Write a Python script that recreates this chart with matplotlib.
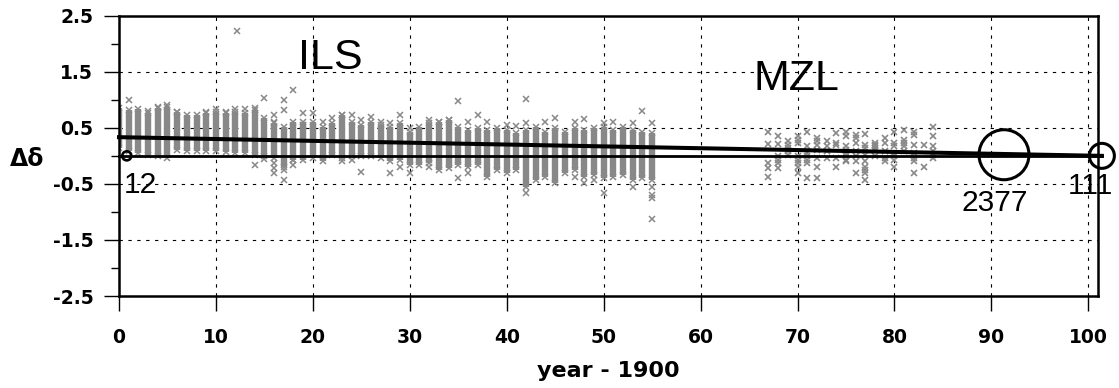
import matplotlib
matplotlib.use("Agg")
import matplotlib.pyplot as plt

# ILS: dense column per year (low / high edge of the cloud)
ils_years = list(range(0, 56))
ils_lo = [0.14, 0.08, 0.05, 0.02, -0.01, -0.04, 0.11, 0.08, 0.08, 0.08,
          0.08, 0.06, 0.05, 0.05, 0.02, -0.01, -0.04, -0.19, -0.07, -0.07,
          -0.04, -0.10, 0.02, -0.04, -0.01, -0.01, -0.01, -0.04, -0.10, -0.07,
          -0.16, -0.16, -0.13, -0.25, -0.22, -0.16, -0.19, -0.16, -0.37, -0.25,
          -0.31, -0.25, -0.55, -0.43, -0.37, -0.49, -0.31, -0.25, -0.37, -0.34,
          -0.40, -0.37, -0.34, -0.43, -0.40, -0.43]
ils_hi = [0.85, 0.82, 0.83, 0.76, 0.85, 0.88, 0.79, 0.73, 0.73, 0.76,
          0.79, 0.76, 0.79, 0.76, 0.82, 0.67, 0.58, 0.52, 0.61, 0.61,
          0.61, 0.52, 0.58, 0.73, 0.61, 0.55, 0.61, 0.55, 0.52, 0.58,
          0.43, 0.52, 0.58, 0.61, 0.64, 0.52, 0.46, 0.49, 0.46, 0.49,
          0.46, 0.40, 0.46, 0.52, 0.43, 0.49, 0.43, 0.49, 0.46, 0.49,
          0.52, 0.46, 0.52, 0.46, 0.43, 0.40]

# ILS single points outside the dense columns
ils_out_x = [1, 3, 4, 5, 6, 9, 10, 11, 12, 12.2, 13, 14, 14, 15, 15, 16, 16,
             16, 16, 16, 17, 17, 17, 17, 18, 18, 18, 19, 19, 20, 21, 22, 23,
             23, 24, 24, 25, 25, 26, 27, 28, 28, 29, 29, 30, 30, 32, 32, 33,
             34, 35, 35, 36, 36, 37, 38, 40, 41, 42, 42, 42, 44, 45, 47, 47,
             48, 48, 49, 50, 50, 51, 53, 53, 54, 55, 55, 55, 55, 55]
ils_out_y = [1.00, 0.80, 0.88, 0.91, 0.79, 0.78, 0.83, 0.78, 0.83, 2.23, 0.84,
             0.85, -0.17, 1.03, -0.05, 0.73, 0.61, -0.13, -0.22, -0.31, 1.00,
             0.82, -0.43, -0.25, 1.18, -0.07, -0.16, 0.76, 0.55, 0.76, 0.61,
             0.67, 0.73, -0.10, 0.73, -0.07, 0.64, -0.28, 0.70, 0.60, 0.58,
             -0.31, 0.73, -0.20, 0.49, -0.31, 0.64, -0.20, 0.61, 0.64, 0.98,
             -0.40, 0.61, -0.31, 0.73, 0.61, 0.55, 0.54, 1.01, 0.58, -0.67,
             0.61, 0.68, 0.60, -0.37, 0.65, -0.49, -0.43, 0.58, -0.67, 0.60,
             0.58, -0.55, 0.80, 0.58, -0.55, -0.70, -0.76, -1.12]

# MZL: individual points per year
mzl = {
    67: [0.42, 0.21, -0.13, -0.22, -0.37],
    68: [0.35, 0.21, -0.01, -0.07, -0.13, -0.22],
    69: [0.26, 0.20, 0.14, 0.08, 0.02],
    70: [0.35, 0.29, 0.23, -0.01, -0.07, -0.13, -0.19, -0.31],
    71: [0.43, 0.18, 0.05, -0.01, -0.07, -0.13, -0.40],
    72: [0.32, 0.26, 0.20, 0.11, -0.04, -0.20, -0.40],
    73: [0.26, 0.17, 0.08, -0.04],
    74: [0.40, 0.23, 0.20, -0.04, -0.19],
    75: [0.42, 0.35, 0.17, 0.11, 0.05, -0.01, -0.07, -0.10],
    76: [0.38, 0.32, 0.23, 0.08, -0.01, -0.10, -0.31],
    77: [0.39, 0.20, 0.14, 0.02, -0.10, -0.19, -0.25, -0.31, -0.43],
    78: [0.23, 0.20, 0.17, 0.14, 0.11, -0.01],
    79: [0.32, 0.23, 0.08, -0.04, -0.10],
    80: [0.43, 0.23, 0.17, 0.05, -0.01, -0.07, -0.19],
    81: [0.46, 0.29, 0.23, 0.17, 0.08],
    82: [0.43, 0.38, 0.20, 0.05, -0.04, -0.10, -0.31],
    83: [0.20, -0.19],
    84: [0.52, 0.35, 0.17, 0.08, 0.02, -0.04],
}

# fitted trend and circles (number of data per group)
trend_x = [0, 101.4]
trend_y = [0.333, 0.0]
circle_x = [0.8, 91.3, 101.4]
circle_y = [0.0, 0.02, 0.0]
circle_n = ["12", "2377", "111"]

GRAY = "#888888"
BOLD = {"family": "DejaVu Sans", "weight": "bold"}
REG = "Liberation Sans"

fig = plt.figure(figsize=(11.19, 3.88), dpi=100)
ax = fig.add_axes([119 / 1119, 1 - 296 / 388, (1098 - 119) / 1119, (296 - 15.7) / 388])

ax.set_xlim(0, 101)
ax.set_ylim(-2.5, 2.5)

# grid
for gx in range(10, 101, 10):
    ax.axvline(gx, color="black", lw=0.8, ls=(0, (3, 5)), zorder=0)
for gy in [1.5, 0.5, -0.5, -1.5]:
    ax.axhline(gy, color="black", lw=0.8, ls=(0, (3, 5)), zorder=0)

# ILS columns
ax.vlines(ils_years, ils_lo, ils_hi, color=GRAY, lw=4.6, zorder=2)
ax.plot(ils_years + ils_years, ils_lo + ils_hi, ls="none", marker="x",
        ms=4.5, mew=1.1, color=GRAY, zorder=2)
ax.plot(ils_out_x, ils_out_y, ls="none", marker="x", ms=3.8, mew=1.1,
        color=GRAY, zorder=2)

# MZL points
for yr, vals in mzl.items():
    ax.plot([yr] * len(vals), vals, ls="none", marker="x", ms=3.8, mew=1.2,
            color=GRAY, zorder=2)

# lines
ax.plot([0, 101.4], [0, 0], color="black", lw=2.0, clip_on=False, zorder=3)
ax.plot(trend_x, trend_y, color="black", lw=2.9, clip_on=False, zorder=3)

# circles
ax.scatter(circle_x, circle_y, s=[42, 1296, 324], facecolors="none",
           edgecolors="black", linewidths=[1.9, 2.2, 2.2], clip_on=False, zorder=4)
label_pos = [(2.16, -0.666), (90.3, -0.98), (100.2, -0.68)]
for (lx, ly), txt in zip(label_pos, circle_n):
    ax.text(lx, ly, txt, family=REG, fontsize=21.5, ha="center", va="baseline",
            clip_on=False, zorder=5)

ax.text(21.75, 1.55, "ILS", family=REG, fontsize=31, ha="center", va="baseline")
ax.text(69.9, 1.176, "MZL", family=REG, fontsize=31, ha="center", va="baseline")

# axes styling
for sp in ax.spines.values():
    sp.set_linewidth(1.8)

ax.set_xticks(range(0, 101, 10))
ax.set_xticklabels([str(v) for v in range(0, 101, 10)], fontdict=BOLD, fontsize=13.5)
ax.set_yticks([2.5, 1.5, 0.5, -0.5, -1.5, -2.5])
ax.set_yticklabels(["2.5", "1.5", "0.5", "-0.5", "-1.5", "-2.5"], fontdict=BOLD, fontsize=13.5)
ax.set_yticks([2, 1, 0, -1, -2], minor=True)
ax.tick_params(axis="x", direction="out", length=11, width=1, pad=12)
ax.tick_params(axis="y", which="major", direction="out", length=11, width=1, pad=7.5)
ax.tick_params(axis="y", which="minor", direction="out", length=6, width=1)

fig.text(608.5 / 1119, 1 - 377 / 388, "year - 1900", ha="center", va="baseline",
         fontsize=16, **BOLD)
fig.text(27.5 / 1119, 1 - 166 / 388, "Δδ", ha="center", va="baseline",
         fontsize=17, **BOLD)

fig.savefig("out.png", dpi=100)
